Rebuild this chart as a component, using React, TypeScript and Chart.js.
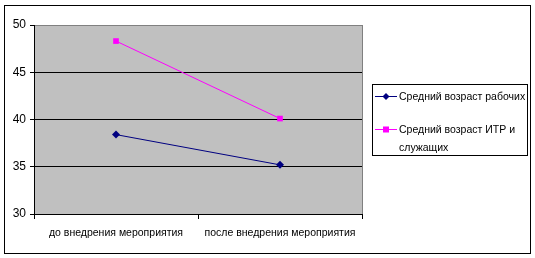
import React, { useEffect, useRef } from "react";
import { Chart, registerables } from "chart.js";

Chart.register(...registerables);

const categories = ["до внедрения мероприятия", "после внедрения мероприятия"];
const workersAge = [38.4, 35.2];
const engineersAge = [48.3, 40.1];
const seriesNames = ["Средний возраст рабочих", "Средний возраст ИТР и служащих"];
const legendLines = [["Средний возраст рабочих"], ["Средний возраст ИТР и", "служащих"]];
const yTicks = [30, 35, 40, 45, 50];

const FONT = "'Liberation Sans', Arial, sans-serif";
const NAVY = "#000080";
const MAGENTA = "#FF00FF";

const framePlugin = {
  id: "frame",
  beforeDraw(chart: any) {
    const { ctx, chartArea: a, width, height } = chart;
    ctx.save();
    ctx.fillStyle = "#ffffff";
    ctx.fillRect(0, 0, width, height);
    ctx.strokeStyle = "#000000";
    ctx.lineWidth = 1;
    ctx.strokeRect(4.5, 5.5, 526, 248);
    ctx.fillStyle = "#C0C0C0";
    ctx.fillRect(a.left, a.top, a.right - a.left, a.bottom - a.top);
    ctx.strokeStyle = "#808080";
    ctx.strokeRect(Math.round(a.left) + 0.5, Math.round(a.top) + 0.5, Math.round(a.right - a.left), Math.round(a.bottom - a.top));
    ctx.restore();
  },
  afterDraw(chart: any) {
    const { ctx } = chart;
    ctx.save();
    ctx.strokeStyle = "#000000";
    ctx.lineWidth = 1;
    ctx.strokeRect(372.5, 84.5, 155, 71);
    ctx.font = `10.5px ${FONT}`;
    ctx.textBaseline = "middle";
    ctx.fillStyle = "#000000";
    const rows = [96, 129];
    const colors = [NAVY, MAGENTA];
    rows.forEach((y, i) => {
      ctx.strokeStyle = colors[i];
      ctx.beginPath();
      ctx.moveTo(375, y + 0.5);
      ctx.lineTo(397, y + 0.5);
      ctx.stroke();
      ctx.fillStyle = colors[i];
      if (i === 0) {
        ctx.beginPath();
        ctx.moveTo(386, y - 3);
        ctx.lineTo(389.5, y + 0.5);
        ctx.lineTo(386, y + 4);
        ctx.lineTo(382.5, y + 0.5);
        ctx.closePath();
        ctx.fill();
      } else {
        ctx.fillRect(383, y - 2.5, 6, 6);
      }
      ctx.fillStyle = "#000000";
      legendLines[i].forEach((t, j) => {
        ctx.fillText(t, 399, y + 1 + j * 18);
      });
    });
    ctx.restore();
  },
};

export default function App() {
  const ref = useRef<HTMLCanvasElement | null>(null);
  useEffect(() => {
    if (!ref.current) return;
    const chart = new Chart(ref.current, {
      type: "line",
      data: {
        labels: categories,
        datasets: [
          {
            label: seriesNames[0],
            data: workersAge,
            borderColor: NAVY,
            backgroundColor: NAVY,
            borderWidth: 1,
            pointStyle: "rectRot",
            pointRadius: 4,
            pointBorderWidth: 0,
            fill: false,
          },
          {
            label: seriesNames[1],
            data: engineersAge,
            borderColor: MAGENTA,
            backgroundColor: MAGENTA,
            borderWidth: 1,
            pointStyle: "rect",
            pointRadius: 4,
            pointBorderWidth: 0,
            fill: false,
          },
        ],
      },
      options: {
        animation: false,
        responsive: false,
        devicePixelRatio: 1,
        layout: { padding: { top: 25, left: 0, right: 173, bottom: 0 } },
        plugins: { legend: { display: false }, tooltip: { enabled: false } },
        scales: {
          x: {
            offset: true,
            grid: { offset: true, drawOnChartArea: false, color: "#000000", tickLength: 5 },
            border: { color: "#000000" },
            ticks: { color: "#000000", font: { family: FONT, size: 10.5 }, padding: 8, maxRotation: 0, autoSkip: false },
            afterFit(scale: any) { scale.height = 44; },
          },
          y: {
            min: yTicks[0],
            max: yTicks[yTicks.length - 1],
            afterBuildTicks(scale: any) { scale.ticks = yTicks.map((v) => ({ value: v })); },
            grid: {
              color: (c: any) => (c.tick && c.tick.value === 50 ? "#808080" : "#000000"),
              tickColor: "#000000",
              tickLength: 4,
            },
            border: { color: "#000000" },
            ticks: { color: "#000000", font: { family: FONT, size: 12 }, padding: 4 },
            afterFit(scale: any) { scale.width = 34; },
          },
        },
      },
      plugins: [framePlugin],
    });
    return () => chart.destroy();
  }, []);
  return (
    <div style={{ position: "fixed", left: 0, top: 0, width: 535, height: 258, background: "#fff" }}>
      <canvas ref={ref} width={535} height={258} style={{ display: "block" }} />
    </div>
  );
}
